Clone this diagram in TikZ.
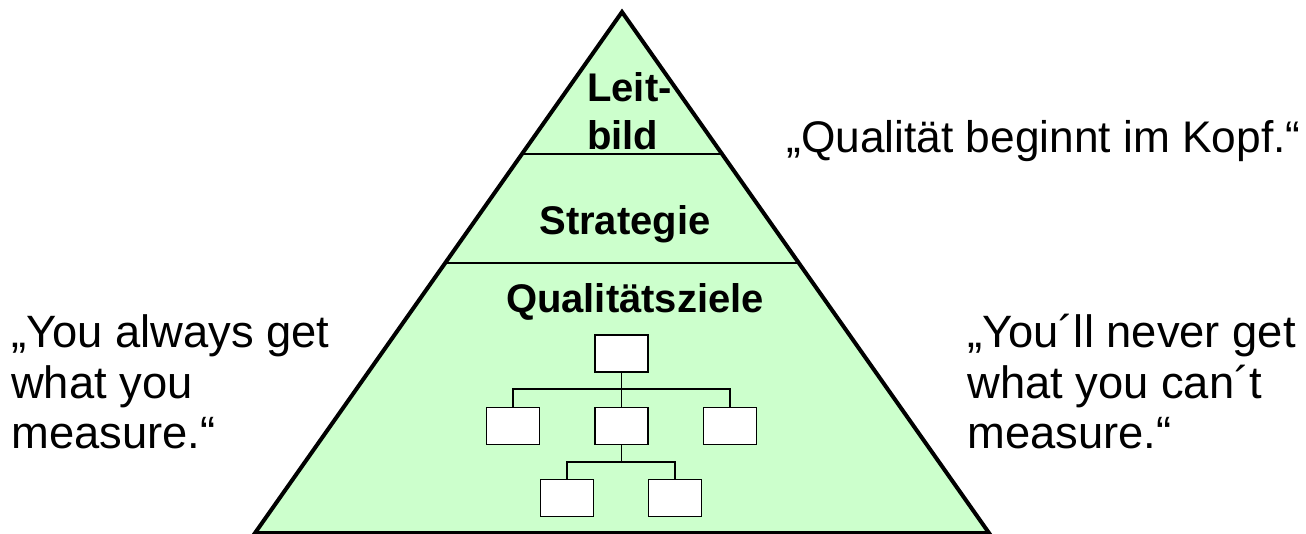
\documentclass[tikz,border=0pt]{standalone}
\usepackage{fontspec}
\setmainfont{Liberation Sans}
\usetikzlibrary{calc}
\definecolor{pyrgreen}{RGB}{204,255,204}
\tikzset{
  orgbox/.style={draw=black, fill=white, line width=1.1pt, minimum width=39.75pt, minimum height=27.75pt, inner sep=0pt},
  orgline/.style={draw=black, line width=1.1pt},
  layertext/.style={font=\fontsize{30}{34}\selectfont\bfseries, inner sep=0pt},
  quotetext/.style={font=\fontsize{34}{38}\selectfont, inner sep=0pt, anchor=base west},
  topquote/.style={font=\fontsize{33.2}{38}\selectfont, inner sep=0pt, anchor=base west},
  sepline/.style={draw=black, line width=1.1pt},
  pyramid/.style={draw=black, line width=3pt, line join=miter}
}
\begin{document}
\begin{tikzpicture}[x=0.75pt, y=-0.75pt]
\useasboundingbox (0,0) rectangle (1306,534);
% pyramid corners
\coordinate (A) at (622,12);
\coordinate (L) at (255,533);
\coordinate (R) at (989,533);
\fill[pyrgreen] (A) -- (L) -- (R) -- cycle;
% layer separators
\coordinate (s1l) at ($(A)!0.2726!(L)$);
\coordinate (s1r) at ($(A)!0.2726!(R)$);
\coordinate (s2l) at ($(A)!0.4818!(L)$);
\coordinate (s2r) at ($(A)!0.4818!(R)$);
\draw[sepline] (s1l) -- (s1r);
\draw[sepline] (s2l) -- (s2r);
\draw[pyramid] (A) -- (L) -- (R) -- cycle;
% layer labels
\node[layertext, anchor=base west] (leit) at (587,102) {Leit-};
\node[layertext, anchor=base west] (bild) at (587,150) {bild};
\node[layertext, anchor=base] (strat) at (625,235) {Strategie};
\node[layertext, anchor=base] (ziele) at (635,313) {Qualitätsziele};
% org chart
\node[orgbox] (top) at (621.5,353.5) {};
\node[orgbox] (m1) at (513,426) {};
\node[orgbox] (m2) at (621.5,426) {};
\node[orgbox] (m3) at (730,426) {};
\node[orgbox] (b1) at (567,498) {};
\node[orgbox] (b2) at (675,498) {};
\coordinate (bus1) at (621.5,389);
\coordinate (bus2) at (621.5,462);
\draw[orgline] (top.south) -- (m2.north);
\draw[orgline] (m1.north) |- (bus1) -| (m3.north);
\draw[orgline] (m2.south) -- (bus2);
\draw[orgline] (b1.north) |- (bus2) -| (b2.north);
% quotes
\node[topquote] (q1) at (786,153) {„Qualität beginnt im Kopf.“};
\node[quotetext] (ql1) at (11,348) {„You always get};
\node[quotetext] (ql2) at (11,398) {what you};
\node[quotetext] (ql3) at (11,448) {measure.“};
\node[quotetext] (qr1) at (967,348) {„You´ll never get};
\node[quotetext] (qr2) at (967,398) {what you can´t};
\node[quotetext] (qr3) at (967,448) {measure.“};
\end{tikzpicture}
\end{document}
